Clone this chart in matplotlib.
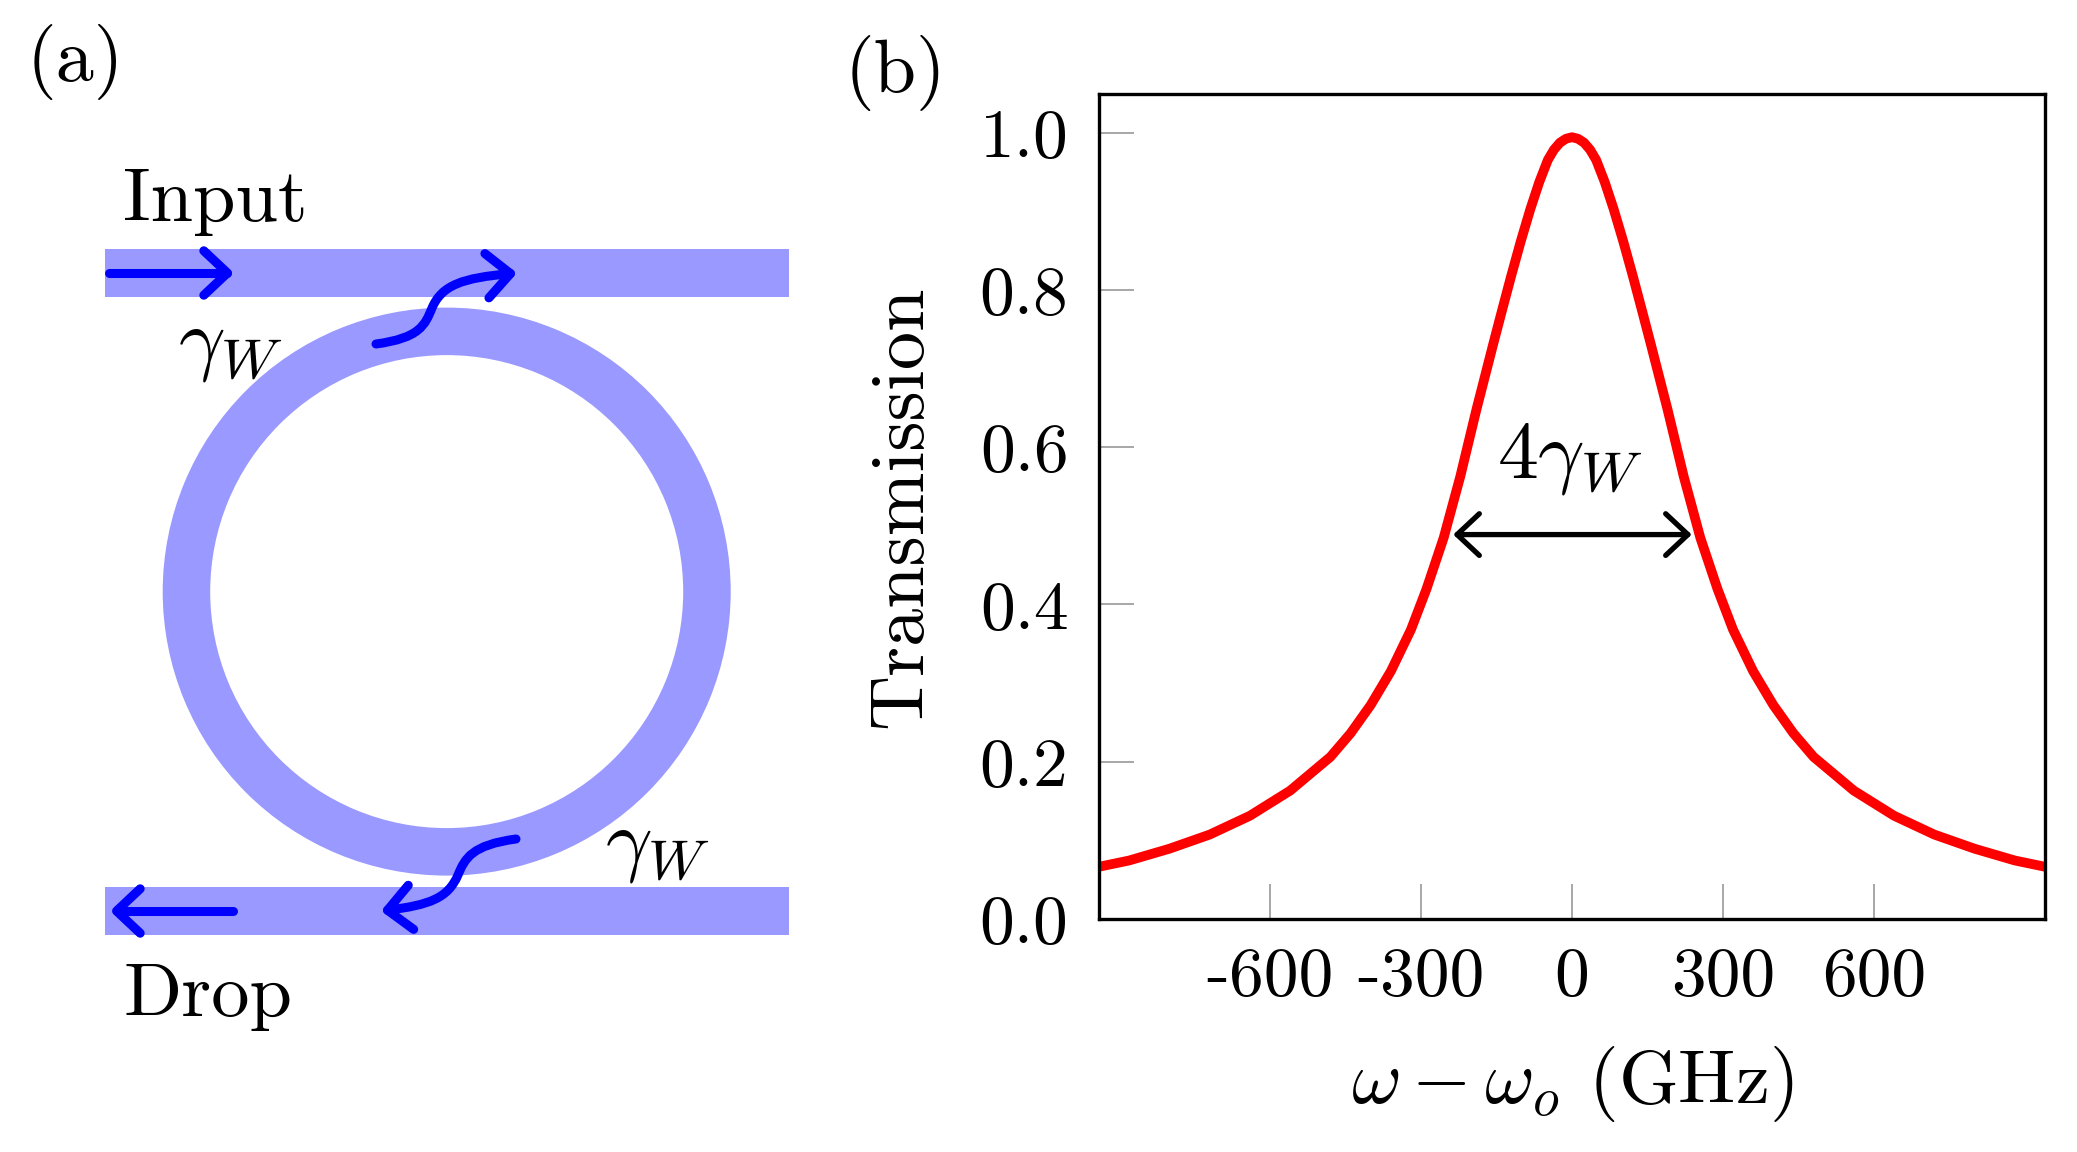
import numpy as np
import matplotlib
matplotlib.use("Agg")
import matplotlib.pyplot as plt
from matplotlib.patches import Rectangle, Wedge, FancyArrowPatch, ArrowStyle
from matplotlib.path import Path

plt.rcParams['font.family'] = ['cmr10', 'DejaVu Serif']
plt.rcParams['mathtext.fontset'] = 'cm'
plt.rcParams['axes.unicode_minus'] = False
plt.rcParams['axes.formatter.use_mathtext'] = True

# ---------------- data (panel b) ----------------
detuning = [-940, -880, -800, -720, -640, -560, -480, -440, -400, -360, -320, -289,
            -255, -222, -190, -156, -138, -121, -102, -83, -65, -48, -36, -24, -12, 0,
            12, 24, 36, 48, 65, 83, 102, 121, 138, 156, 190, 222, 255, 289, 320, 360,
            400, 440, 480, 560, 640, 720, 800, 880, 940]
transmission = [0.066, 0.074, 0.089, 0.107, 0.131, 0.163, 0.206, 0.236, 0.272, 0.315,
                0.368, 0.420, 0.485, 0.563, 0.648, 0.733, 0.777, 0.818, 0.862, 0.903,
                0.938, 0.966, 0.979, 0.988, 0.993, 0.995,
                0.993, 0.988, 0.979, 0.966, 0.938, 0.903, 0.862, 0.818, 0.777, 0.733,
                0.648, 0.563, 0.485, 0.420, 0.368, 0.315, 0.272, 0.236, 0.206, 0.163,
                0.131, 0.107, 0.089, 0.074, 0.066]
xticks = [-600, -300, 0, 300, 600]
xticklabels = ['-600', '-300', '0', '300', '600']
yticks = [0.0, 0.2, 0.4, 0.6, 0.8, 1.0]
yticklabels = ['0.0', '0.2', '0.4', '0.6', '0.8', '1.0']
fwhm_left, fwhm_right, fwhm_level = -236, 238, 0.489

W, H = 2077, 1152
fig = plt.figure(figsize=(W / 100, H / 100), dpi=100)

FS = 55       # regular text
FS_TICK = 50  # tick labels
FS_MATH = 59  # gamma labels

# ---------------- panel (a): schematic ----------------
ax0 = fig.add_axes([0, 0, 1, 1])
ax0.set_xlim(0, W)
ax0.set_ylim(H, 0)
ax0.axis('off')

wg_color = '#9999ff'
wg_x0, wg_x1 = 105, 789
top_y0, top_y1 = 249, 297
bot_y0, bot_y1 = 887, 935
ring_c = (446.7, 591.6)
ring_rout, ring_rin = 284, 236.5

ax0.add_patch(Rectangle((wg_x0, top_y0), wg_x1 - wg_x0, top_y1 - top_y0,
                        facecolor=wg_color, edgecolor='none'))
ax0.add_patch(Rectangle((wg_x0, bot_y0), wg_x1 - wg_x0, bot_y1 - bot_y0,
                        facecolor=wg_color, edgecolor='none'))
ax0.add_patch(Wedge(ring_c, ring_rout, 0, 360, width=ring_rout - ring_rin,
                    facecolor=wg_color, edgecolor='none'))

blue = '#0000ff'
head = ArrowStyle('->', head_length=17, head_width=16)
alw = 6.5

def arrow_path(verts, codes):
    p = FancyArrowPatch(path=Path(verts, codes), arrowstyle=head, mutation_scale=1,
                        color=blue, lw=alw, capstyle='round', joinstyle='round',
                        shrinkA=0, shrinkB=0)
    ax0.add_patch(p)

# input arrow
arrow_path([(109, 273), (234, 273)], [Path.MOVETO, Path.LINETO])
# drop arrow
arrow_path([(233, 911), (110, 911)], [Path.MOVETO, Path.LINETO])
# upper coupling S-curve
C = Path.CURVE4
arrow_path([(376, 344), (420, 338), (425, 325), (432, 308),
            (442, 285), (462, 278), (517, 273)],
           [Path.MOVETO, C, C, C, C, C, C])
# lower coupling S-curve
arrow_path([(516, 839), (472, 845), (465, 858), (458, 875),
            (448, 898), (430, 905), (381, 911)],
           [Path.MOVETO, C, C, C, C, C, C])

ax0.text(230, 347, r'$\gamma_W$', fontsize=FS_MATH, ha='center', va='center')
ax0.text(657, 848, r'$\gamma_W$', fontsize=FS_MATH, ha='center', va='center')
ax0.text(123, 221, 'Input', fontsize=FS, ha='left', va='baseline')
ax0.text(123, 1016, 'Drop', fontsize=FS, ha='left', va='baseline')
ax0.text(75, 62, '(a)', fontsize=FS, ha='center', va='center')
ax0.text(895, 73, '(b)', fontsize=FS, ha='center', va='center')

# ---------------- panel (b): transmission ----------------
L, R, T, B = 1099, 2045, 94, 918.6
ax = fig.add_axes([L / W, 1 - B / H, (R - L) / W, (B - T) / H])
ax.plot(detuning, transmission, color='#ff0000', lw=7.0, solid_joinstyle='round',
        solid_capstyle='butt')
ax.set_xlim(-940, 940)
ax.set_ylim(0, 1.05)
ax.set_xticks(xticks, xticklabels)
ax.set_yticks(yticks, yticklabels)
ax.tick_params(direction='in', length=25, width=1.3, color='#a0a0a0',
               labelsize=FS_TICK, pad=20, labelcolor='black')
ax.tick_params(axis='y', pad=22)
for s in ax.spines.values():
    s.set_linewidth(2.4)
    s.set_color('black')

arr = FancyArrowPatch((fwhm_left, fwhm_level), (fwhm_right, fwhm_level),
                      arrowstyle=ArrowStyle('<->', head_length=16, head_width=15),
                      mutation_scale=1, color='black', lw=3.8, shrinkA=0, shrinkB=0,
                      capstyle='round', joinstyle='round')
ax.add_patch(arr)
ax.text(-5, 0.585, r'$4\gamma_W$', fontsize=FS_MATH, ha='center', va='center')

ax.text(-0.208, 0.5, 'Transmission', transform=ax.transAxes, rotation=90,
        fontsize=FS, ha='center', va='center')
ax.text(0.5, -0.2, r'$\omega - \omega_o$ (GHz)', transform=ax.transAxes,
        fontsize=FS, ha='center', va='center')

fig.savefig('out.png', dpi=100)
